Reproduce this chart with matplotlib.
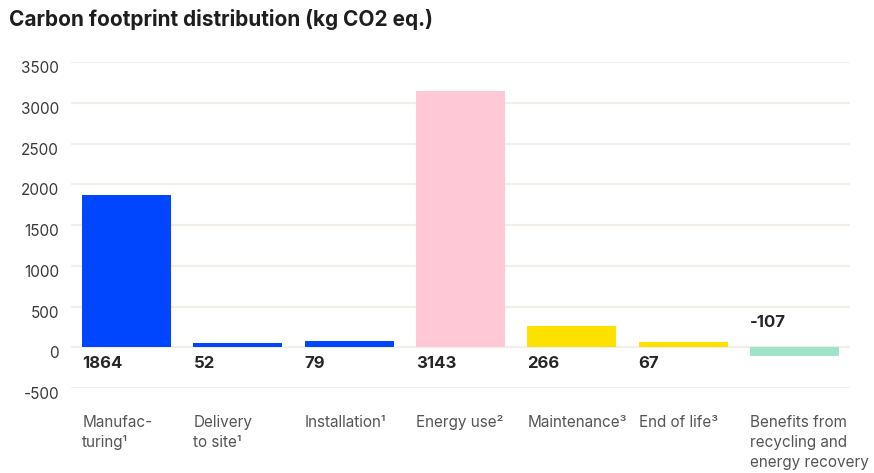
import matplotlib
matplotlib.use("Agg")
import matplotlib.pyplot as plt
from matplotlib.transforms import blended_transform_factory, ScaledTranslation

plt.rcParams["font.family"] = ["Inter", "DejaVu Sans"]

categories = [
    "Manufac-\nturing¹",
    "Delivery\nto site¹",
    "Installation¹",
    "Energy use²",
    "Maintenance³",
    "End of life³",
    "Benefits from\nrecycling and\nenergy recovery",
]
values = [1864, 52, 79, 3143, 266, 67, -107]
colors = ["#0046FF", "#0046FF", "#0046FF", "#FFC8D6", "#FFE100", "#FFE100", "#9FE4C8"]
yticks = [-500, 0, 500, 1000, 1500, 2000, 2500, 3000, 3500]

fig = plt.figure(figsize=(8.74, 4.73), dpi=100)
ax = fig.add_axes([71 / 874, 1 - 388 / 473, (850 - 71) / 874, (388 - 62) / 473])

x = list(range(len(values)))
bar_w = 0.8
ax.bar(x, values, width=bar_w, color=colors, zorder=3)

ax.set_xlim(-0.5, len(values) - 0.5)
ax.set_ylim(-500, 3500)
ax.set_yticks(yticks)
ax.set_yticklabels([str(t) for t in yticks], fontsize=11, color="#3a3a3a")
ax.tick_params(axis="y", length=0, pad=8.5)
# nudge tick labels slightly below their grid lines
shift = ScaledTranslation(0, -5 / 100, fig.dpi_scale_trans)
for lbl in ax.get_yticklabels():
    lbl.set_transform(lbl.get_transform() + shift)
ax.set_xticks([])
ax.grid(axis="y", color="#F3EEE9", linewidth=1.6, zorder=0)
for s in ax.spines.values():
    s.set_visible(False)

# value labels: below the baseline for positive bars, above for negative ones
for xi, v in zip(x, values):
    left = xi - bar_w / 2
    offset = -16 if v >= 0 else 25
    ax.annotate(str(v), (left, 0), xytext=(0, offset), textcoords="offset pixels",
                ha="left", va="center", fontsize=12, fontweight="bold",
                color="#262626")

# category labels under the plot area
trans = blended_transform_factory(ax.transData, ax.transAxes)
for xi, label in zip(x, categories):
    ax.text(xi - bar_w / 2, -0.082, label, transform=trans, ha="left", va="top",
            fontsize=11, color="#555555", linespacing=1.42)

fig.text(9 / 874, 1 - 19 / 473, "Carbon footprint distribution (kg CO2 eq.)",
         ha="left", va="center", fontsize=15, fontweight="bold", color="#1e1e1e")

fig.savefig("out.png", dpi=100)
